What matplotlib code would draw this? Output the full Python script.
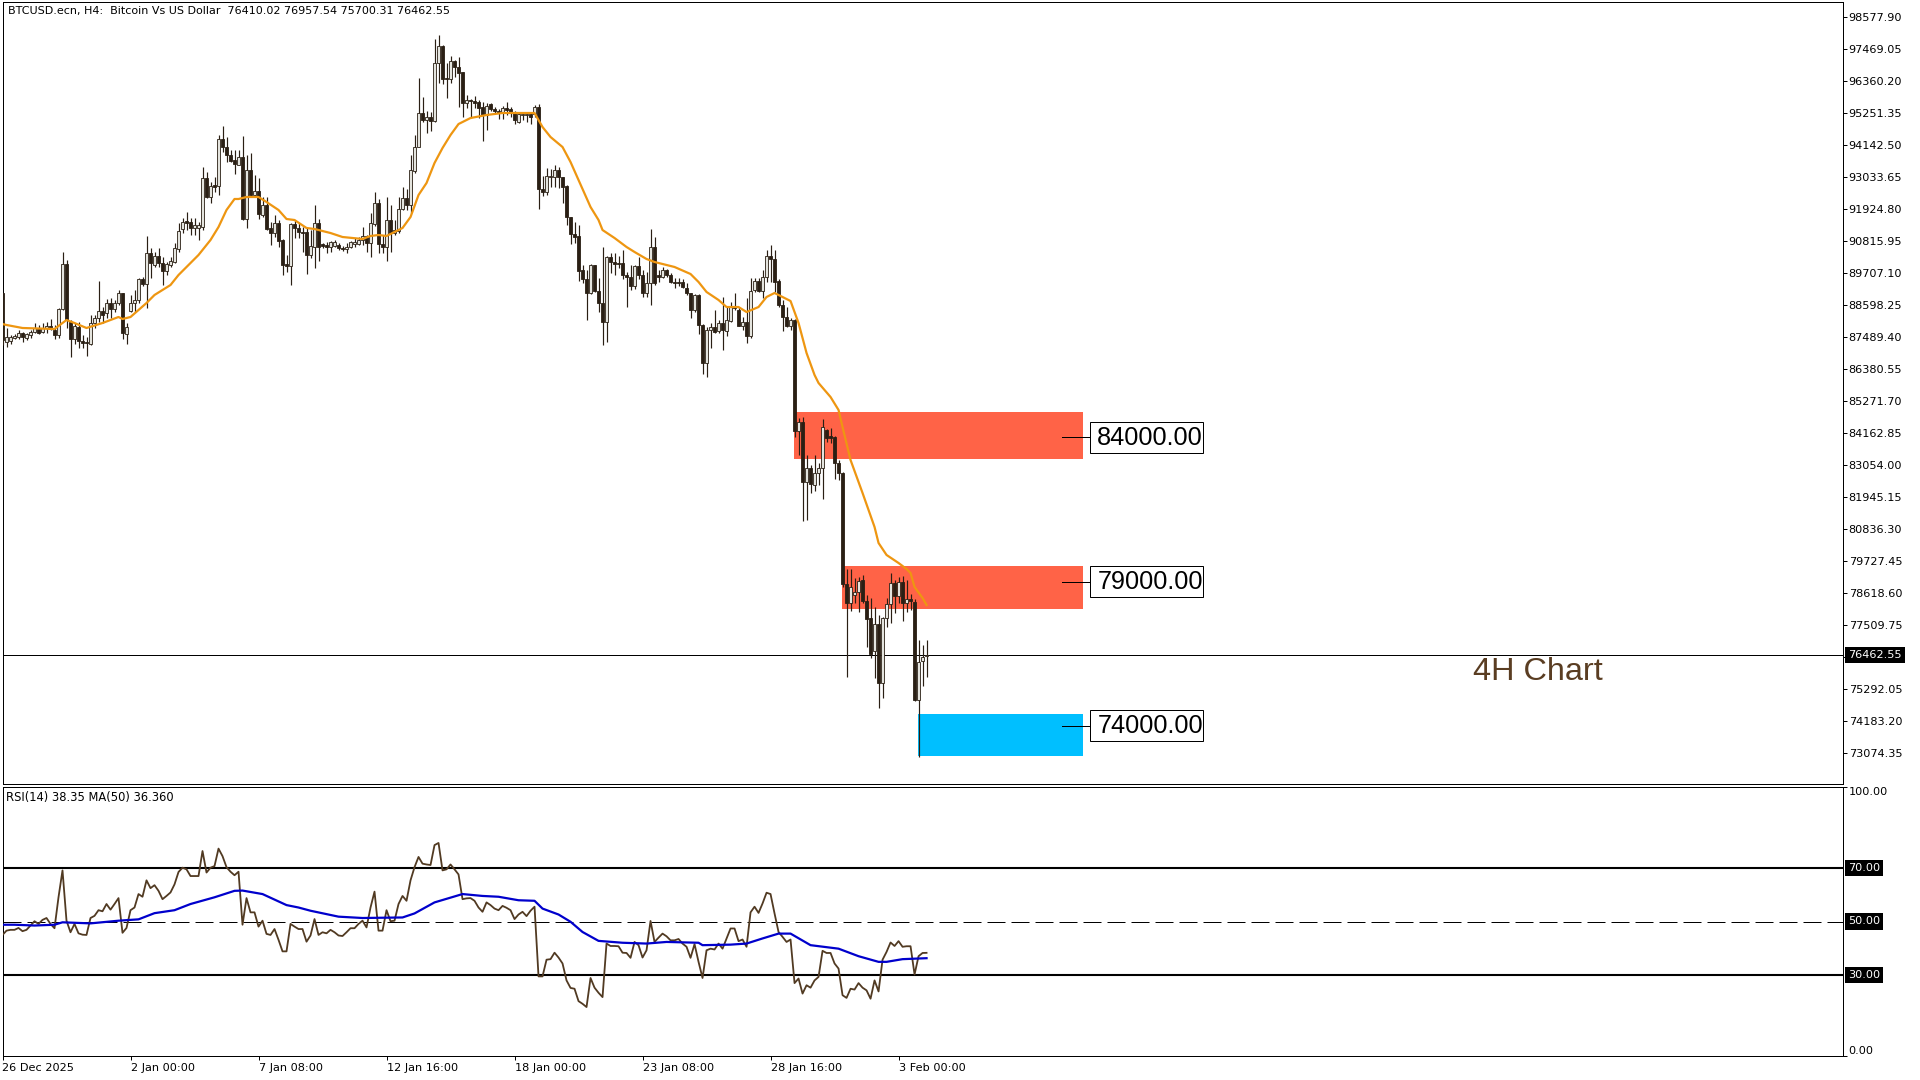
# BTCUSD H4 chart with RSI panel, MT4 style

from matplotlib import pyplot as plt
from matplotlib.patches import Rectangle
from matplotlib.transforms import ScaledTranslation

# 4H candles
opens = [
    88998, 87310, 87345, 87449, 87483, 87612, 87438, 87543, 87646, 87750, 87646, 87785, 87854, 87716, 87543, 88443,
    90002, 87993, 87404, 87820, 87334, 87300, 87230, 87958, 88131, 88374, 88304, 88651, 88443, 88651, 88998, 87577,
    88374, 88651, 88755, 89483, 89309, 90384, 89968, 90280, 90037, 89760, 89968, 90072, 90523, 91215, 91492, 91458,
    91250, 91250, 91284, 92982, 92324, 92740, 92705, 94334, 94056, 93780, 93606, 93433, 93710, 91562, 93260, 92393,
    92532, 91700, 92047, 91250, 91076, 91423, 90834, 90002, 89933, 91388, 91250, 91111, 91111, 90315, 90592, 91423,
    90695, 90661, 90592, 90626, 90661, 90557, 90523, 90592, 90695, 90695, 90834, 90973, 90730, 91388, 92116, 90695,
    90592, 91527, 91076, 91146, 91908, 92289, 92047, 93225, 94056, 95235, 94992, 95096, 94957, 96967, 97556, 96447,
    96413, 97036, 96829, 96656, 95581, 95685, 95650, 95616, 95443, 95165, 95547, 95373, 95304, 95269, 95408, 95373,
    95269, 94923, 95165, 95165, 95200, 95200, 95443, 92601, 92497, 93017, 93017, 93260, 93017, 92705, 91631, 91042,
    90973, 89795, 89483, 88998, 89968, 89067, 88651, 87993, 90245, 90072, 90037, 90037, 89621, 89552, 89240, 89933,
    89621, 88998, 89344, 90592, 89621, 89552, 89795, 89621, 89379, 89379, 89379, 89171, 88998, 88409, 88929, 87889,
    86572, 87716, 87820, 87681, 87958, 87681, 88027, 88512, 88409, 87854, 87993, 87508, 89102, 89413, 89067, 89552,
    90280, 90176, 89413, 88582, 88166, 87854, 88062, 84216, 84528, 82449, 82934, 82345, 82761, 82934, 84251, 84043,
    84008, 83107, 82761, 78914, 78256, 78533, 78637, 79053, 78325, 77736, 76593, 77528, 75484, 77736, 78221, 78949,
    78498, 78984, 78256, 78395, 78291, 74895, 76247, 76410.02,
]
highs = [
    88998, 87785, 87543, 87577, 87716, 87646, 87612, 87716, 87958, 87889, 87958, 87993, 88097, 87889, 88478, 90419,
    90141, 88062, 87958, 87993, 87543, 87473, 88235, 88235, 89413, 88512, 88790, 88825, 88755, 89102, 88998, 87958,
    88929, 89102, 89517, 89552, 90973, 90557, 90419, 90557, 90245, 90072, 90245, 90730, 91423, 91596, 91804, 91596,
    91596, 91458, 93364, 93191, 92844, 93017, 94472, 94784, 94403, 93953, 93953, 93953, 94438, 93779, 93849, 93086,
    92982, 92324, 92324, 91458, 91700, 91527, 90869, 90315, 91423, 91527, 91423, 91284, 91250, 91180, 92047, 91562,
    90730, 90765, 90799, 90834, 90730, 90626, 90730, 90799, 90903, 90938, 91284, 91007, 91770, 92497, 92255, 91007,
    92324, 92047, 91527, 92324, 92670, 92601, 93779, 94472, 96447, 95789, 95304, 95269, 97799, 97937, 97591, 96967,
    97210, 97071, 97175, 96656, 95858, 95720, 95823, 95685, 95616, 95581, 95581, 95443, 95373, 95477, 95616, 95443,
    95304, 95235, 95269, 95269, 95269, 95512, 95547, 93052, 93329, 93294, 93433, 93364, 93017, 92740, 91631, 91458,
    91354, 89968, 89795, 90002, 89968, 89517, 90592, 90280, 90384, 90384, 90280, 90488, 89725, 89968, 89968, 90245,
    89795, 89725, 91215, 90938, 89795, 89899, 89829, 89690, 89517, 89517, 89483, 89344, 88998, 88963, 88963, 87923,
    87820, 87958, 88409, 88062, 88859, 88512, 88686, 88998, 88512, 88166, 88825, 89517, 89517, 89517, 89795, 90488,
    90661, 90488, 89483, 88755, 88512, 88131, 88097, 84666, 84701, 83385, 83038, 83385, 83107, 84632, 84285, 84320,
    84043, 83211, 82796, 79435, 79435, 79122, 79157, 79227, 78533, 78429, 78118, 77840, 77771, 78429, 79296, 79053,
    79157, 79192, 79053, 78568, 78395, 76974, 76801, 76957.54,
]
lows = [
    87196, 87127, 87230, 87404, 87404, 87300, 87369, 87438, 87612, 87577, 87612, 87612, 87716, 87404, 87438, 88409,
    87785, 86780, 87230, 87092, 87092, 86815, 87196, 87785, 87993, 87958, 88131, 88131, 88339, 88582, 87404, 87230,
    88339, 88339, 88651, 89240, 88478, 89517, 89899, 89899, 89275, 89621, 89899, 90037, 90419, 91076, 91180, 91007,
    91007, 90834, 91180, 92289, 92116, 92497, 92393, 93884, 93537, 93537, 93121, 93433, 91527, 91250, 92324, 92324,
    91562, 91631, 91180, 90661, 90938, 90592, 89621, 89725, 89275, 90903, 90903, 90419, 89656, 90211, 89864, 90107,
    90557, 90384, 90419, 90592, 90488, 90453, 90384, 90557, 90592, 90661, 90661, 90419, 90245, 91319, 90384, 90384,
    90107, 90419, 91007, 91076, 91874, 91874, 91770, 93156, 94056, 94923, 94542, 94611, 94923, 96274, 96239, 95754,
    96274, 96482, 95443, 95096, 95408, 95096, 95408, 95061, 94264, 94646, 95304, 95200, 95027, 95027, 95165, 95096,
    94853, 94888, 94992, 94923, 94853, 95096, 91908, 92359, 92393, 92670, 92670, 92636, 92116, 91354, 90695, 90730,
    89413, 89344, 88062, 88963, 89033, 88339, 87196, 87300, 89690, 89621, 89864, 89483, 88512, 89102, 89136, 89483,
    88859, 88859, 88582, 89275, 89379, 89517, 89552, 89344, 89171, 89240, 89171, 88929, 88131, 88339, 87577, 86191,
    86087, 87092, 87612, 87612, 87023, 87508, 87993, 88409, 87854, 87716, 87265, 87438, 89033, 89033, 88825, 89379,
    89379, 89033, 88512, 87681, 87820, 87716, 84009, 83385, 81097, 81132, 82068, 82137, 82345, 81860, 83835, 83800,
    82553, 82518, 78811, 75692, 77979, 78256, 77944, 78256, 76732, 76351, 75657, 74618, 74964, 77425, 77563, 77910,
    78256, 77633, 77945, 78014, 74860, 72920, 75380, 75700.31,
]
closes = [
    87369, 87456, 87473, 87508, 87612, 87473, 87577, 87646, 87785, 87612, 87785, 87854, 87750, 87543, 88443, 90002,
    88062, 87404, 87854, 87334, 87265, 87265, 87958, 88131, 88374, 88235, 88651, 88443, 88651, 88998, 87612, 87820,
    88651, 88755, 89483, 89309, 90384, 90037, 90280, 90037, 89760, 90002, 90107, 90557, 91146, 91458, 91423, 91250,
    91354, 91354, 92982, 92324, 92705, 92670, 94334, 94056, 93780, 93572, 93467, 93710, 91562, 93260, 92393, 92532,
    91735, 92047, 91215, 91076, 91423, 90799, 89968, 89933, 91388, 91250, 91111, 91076, 90315, 90626, 91423, 90592,
    90626, 90592, 90765, 90765, 90557, 90523, 90592, 90765, 90765, 90834, 90973, 90730, 91423, 92116, 90695, 90592,
    91527, 91076, 91180, 91908, 92289, 92047, 93260, 94056, 95235, 94992, 95096, 94957, 96967, 97556, 96413, 96413,
    97036, 96829, 96621, 95581, 95685, 95650, 95581, 95408, 95165, 95477, 95373, 95304, 95235, 95408, 95339, 95269,
    94992, 95200, 95200, 95200, 95096, 95443, 92601, 92497, 93052, 93052, 93260, 93017, 92670, 91631, 91042, 90938,
    89760, 89483, 88998, 89968, 89067, 88651, 87993, 90245, 90072, 90002, 90002, 89621, 89552, 89240, 89933, 89621,
    88998, 89344, 90592, 89344, 89552, 89795, 89621, 89379, 89344, 89344, 89206, 88998, 88409, 88929, 87889, 86572,
    87716, 87820, 87646, 87958, 87716, 88062, 88512, 88478, 87854, 87993, 87508, 89067, 89413, 89067, 89552, 90280,
    90176, 89379, 88582, 88166, 87854, 88062, 84216, 84528, 82449, 82934, 82380, 82761, 82934, 84355, 83973, 83973,
    83107, 82761, 78914, 78256, 78811, 78637, 79018, 78325, 77702, 76489, 77528, 75484, 77736, 78221, 78949, 78498,
    78984, 78256, 78395, 78325, 74895, 76212, 76385, 76462.55,
]

# orange moving average, read at the points where it bends
ma_bars = [
    0, 1, 5, 13, 14, 16, 18, 21, 25, 29, 30, 32, 36, 38, 42, 44, 47, 49, 52, 54, 56, 58, 59, 61, 64, 66, 69, 71, 73,
    76, 78, 82, 85, 90, 92, 94, 96, 100, 102, 104, 106, 108, 110, 112, 114, 117, 121, 125, 133, 135, 137, 140, 142,
    144, 147, 149, 150, 153, 156, 158, 161, 163, 168, 172, 174, 176, 179, 181, 184, 186, 189, 191, 193, 197, 199,
    201, 203, 204, 207, 209, 210, 212, 215, 218, 219, 221, 224, 226, 227, 228, 230, 231,
]
ma_prices = [
    87923, 87889, 87785, 87750, 87854, 88062, 87958, 87785, 87958, 88166, 88097, 88166, 88651, 88929, 89275, 89621,
    90037, 90315, 90834, 91284, 91874, 92255, 92255, 92324, 92324, 92151, 91874, 91562, 91527, 91250, 91215, 91076,
    90938, 90869, 90973, 91007, 90973, 91250, 91631, 92393, 92809, 93502, 94022, 94472, 94853, 95061, 95165, 95235,
    95235, 94749, 94403, 94056, 93537, 92913, 91978, 91527, 91180, 90903, 90592, 90419, 90176, 90072, 89899, 89656,
    89379, 89033, 88755, 88512, 88512, 88339, 88512, 88859, 88998, 88720, 87958, 86919, 86157, 85879, 85394, 84944,
    84354, 83211, 82068, 80890, 80335, 79920, 79642, 79434, 79296, 78811, 78429, 78186,
]

rsi_values = [
    45.0, 46.6, 46.9, 46.9, 47.6, 46.4, 46.9, 48.5, 50.1, 49.1, 50.6, 51.3, 49.1, 47.5, 59.0, 69.0, 50.3, 46.0, 49.1,
    45.6, 45.1, 45.0, 51.3, 52.1, 54.2, 53.8, 56.5, 54.4, 56.5, 58.7, 45.8, 47.6, 54.2, 55.2, 60.2, 59.2, 65.3, 62.4,
    63.5, 61.4, 58.3, 59.5, 60.8, 63.8, 68.4, 70.0, 69.4, 66.9, 66.9, 66.9, 76.2, 68.2, 70.0, 70.6, 77.1, 74.3, 70.2,
    68.5, 67.2, 68.5, 48.8, 58.7, 53.4, 53.4, 48.1, 50.3, 45.4, 45.0, 47.2, 43.2, 38.9, 38.9, 49.1, 48.1, 47.2, 47.2,
    42.5, 44.8, 50.9, 45.0, 46.0, 45.6, 46.9, 46.0, 44.8, 44.6, 46.0, 47.5, 47.5, 49.1, 50.3, 47.8, 55.2, 61.1, 46.6,
    46.6, 54.2, 50.1, 50.3, 56.5, 59.5, 57.7, 65.3, 70.2, 74.0, 71.5, 71.2, 71.0, 78.4, 79.2, 69.0, 69.4, 71.2, 69.4,
    67.5, 58.3, 58.6, 58.7, 57.7, 55.2,
    53.6, 57.1, 56.1, 54.8, 54.2, 55.8, 55.1, 54.2, 50.9, 52.6, 53.6, 52.0, 54.0, 55.5, 29.6, 29.6, 35.8, 36.0, 38.4,
    36.6, 34.4, 28.1, 25.3, 25.0, 20.4, 19.4, 18.2, 29.0, 25.4, 23.5, 21.9, 41.8, 40.9, 40.9, 40.8, 38.4, 38.3, 36.5,
    42.4, 41.2, 36.6, 39.3, 50.2, 42.4, 44.0, 45.5, 44.5, 43.0, 43.0, 43.5, 41.8, 40.6, 36.5, 41.6, 35.0, 29.0, 39.3,
    39.9, 39.6, 41.8, 39.9, 43.7, 47.4, 47.4, 42.7, 43.3, 40.6, 53.4, 55.5, 53.2, 56.7, 60.7, 60.2, 53.0, 46.1, 44.3,
    42.4, 43.3, 27.1, 28.8, 23.2, 26.3, 25.4, 28.1, 29.4, 39.1, 38.3, 38.3, 34.4, 32.5, 22.6, 21.6, 25.0, 24.7, 27.1,
    25.4, 24.4, 21.3, 28.1, 24.0, 35.8, 38.7, 42.2, 40.9, 42.7, 40.6, 40.8, 40.8, 30.3, 37.1, 38.3, 38.35,
]

rsi_ma_bars = [
    0, 3, 8, 13, 15, 22, 29, 34, 38, 43, 47, 53, 58, 60, 65, 71, 74, 77, 84, 90, 100, 103, 108, 115, 120,
    124, 129, 133, 135, 139, 142, 145, 149, 155, 161, 166, 174, 175, 182, 186, 190, 194, 197, 202, 209, 214, 219,
    221, 225, 231,
]
rsi_ma_values = [
    48.8, 48.8, 48.5, 48.8, 49.7, 49.3, 50.3, 50.8, 53.1, 54.2, 56.5, 59.0, 61.4, 61.5, 60.2, 56.1, 55.2, 54.0, 51.8,
    51.3, 51.5, 53.0, 57.1, 60.2, 59.5,
    59.2, 57.9, 57.7, 54.8, 52.6, 49.9, 46.1, 42.8, 42.1, 41.8, 42.4, 42.1, 41.2, 41.4, 41.8, 43.7, 45.5, 45.5, 41.2,
    39.9, 37.1, 35.0, 35.0, 36.0, 36.36,
]
rsi_levels = [70, 50, 30]

price_ticks = [
    98577.90, 97469.05, 96360.20, 95251.35, 94142.50, 93033.65, 91924.80, 90815.95, 89707.10, 88598.25, 87489.40,
    86380.55, 85271.70, 84162.85, 83054.00, 81945.15, 80836.30, 79727.45, 78618.60, 77509.75, 76400.90, 75292.05,
    74183.20, 73074.35,
]
date_bars = [0, 32, 64, 96, 128, 160, 192, 224]
date_labels = ['26 Dec 2025', '2 Jan 00:00', '7 Jan 08:00', '12 Jan 16:00', '18 Jan 00:00', '23 Jan 08:00',
               '28 Jan 16:00', '3 Feb 00:00']

# supply and demand zones
zone_levels = [84000.00, 79000.00, 74000.00]
zone_tops = [84874, 79538, 74410]
zone_bottoms = [83245, 78058, 72955]
zone_starts = [197.9, 209.9, 228.9]
zone_end = 270
zone_colors = ['#FF6347', '#FF6347', '#00BFFF']

last_price = 76462.55
title = 'BTCUSD.ecn, H4:  Bitcoin Vs US Dollar  76410.02 76957.54 75700.31 76462.55'
rsi_title = 'RSI(14) 38.35 MA(50) 36.360'

DARK = '#2a1f14'
BROWN = '#513a22'
SMALL = 8.15
W, H = 1920, 1080
plt.rcParams['font.family'] = 'DejaVu Sans'
plt.rcParams['axes.linewidth'] = 0.72

fig = plt.figure(figsize=(W / 100, H / 100), dpi=100)
ax = fig.add_axes([2.5 / W, 1 - 784 / H, (1843 - 2.5) / W, 782 / H])
ax2 = fig.add_axes([2.5 / W, 1 - 1056 / H, (1843 - 2.5) / W, 269 / H])

ax.set_xlim(0, 460.1)
ax.set_ylim(71984, 99081)
ax2.set_xlim(0, 460.1)
ax2.set_ylim(0, 100)


def shift(label, dx, dy):
    # nudge a text by some pixels
    label.set_transform(label.get_transform() + ScaledTranslation(dx / 100, dy / 100, fig.dpi_scale_trans))


# zones go under the candles
for top, bottom, start, color in zip(zone_tops, zone_bottoms, zone_starts, zone_colors):
    ax.add_patch(Rectangle((start, bottom), zone_end - start, top - bottom, fc=color, ec='none', zorder=1))

# zone labels
for level in zone_levels:
    ax.plot([264.9, 272], [level, level], color='black', lw=0.72, zorder=3)
    ax.add_patch(Rectangle((271.9, level - 537), 28.3, 1074, fc='white', ec='black', lw=0.72, zorder=4))
    ax.text(273.7, level - 15, f'{level:.2f}', family='Liberation Sans', fontsize=18.2, ha='left', va='center',
            zorder=5)

ax.axhline(last_price, color='black', lw=0.72, zorder=2)

# candles
for i in range(len(opens)):
    ax.plot([i, i], [lows[i], highs[i]], color=DARK, lw=0.85, zorder=5, solid_capstyle='butt')
    up = closes[i] >= opens[i]
    body_low = min(opens[i], closes[i])
    body = abs(closes[i] - opens[i])
    ax.add_patch(Rectangle((i - 0.32, body_low), 0.64, body, fc='#e4e4de' if up else DARK, ec=DARK, lw=0.6, zorder=6))

ax.plot(ma_bars, ma_prices, color='#EE9611', lw=1.6, zorder=7)

ax.text(367.6, 75600, '4H Chart', family='Liberation Sans', fontsize=23.3, color='#5a3d22', ha='left', va='baseline')
ax.text(5 / 1840.5, 0.9885, title, transform=ax.transAxes, fontsize=7.97, va='center', ha='left')

ax.set_xticks([])
ax.yaxis.tick_right()
ax.set_yticks(price_ticks)
ax.set_yticklabels([f'{t:.2f}' for t in price_ticks])
ax.tick_params(axis='y', length=3, width=0.72, pad=1, labelsize=SMALL)

ax.annotate(f'{last_price:.2f}', (1, last_price), xycoords=ax.get_yaxis_transform(), xytext=(5, 0),
            textcoords='offset pixels', color='white', fontsize=SMALL, va='center', ha='left',
            bbox=dict(boxstyle='square,pad=0.28', fc='black', ec='none'))

# RSI panel
for level in rsi_levels:
    if level == 50:
        ax2.axhline(level, color='black', lw=0.72, linestyle=(0, (18, 6)), zorder=1)
    else:
        ax2.axhline(level, color='black', lw=1.5, zorder=1)
    ax2.annotate(f'{level:.2f}', (1, level), xycoords=ax2.get_yaxis_transform(), xytext=(5, 0),
                 textcoords='offset pixels', color='white', fontsize=SMALL, va='center', ha='left',
                 bbox=dict(boxstyle='square,pad=0.28', fc='black', ec='none'))

ax2.plot(range(len(rsi_values)), rsi_values, color=BROWN, lw=1.3, zorder=3)
ax2.plot(rsi_ma_bars, rsi_ma_values, color='#0000CC', lw=1.6, zorder=4)
ax2.text(3 / 1840.5, 0.96, rsi_title, transform=ax2.transAxes, fontsize=8.3, va='center', ha='left')

ax2.yaxis.tick_right()
ax2.set_yticks([100, 0])
ax2.set_yticklabels(['100.00', '0.00'])
ax2.get_yticklabels()[0].set_va('top')
ax2.get_yticklabels()[1].set_va('bottom')
ax2.tick_params(axis='y', length=3, width=0.72, pad=1, labelsize=SMALL)
ax2.set_xticks(date_bars)
ax2.set_xticklabels(date_labels, ha='left')
ax2.tick_params(axis='x', length=3, width=0.72, pad=2, labelsize=SMALL)

fig.savefig('out.png', dpi=100)
